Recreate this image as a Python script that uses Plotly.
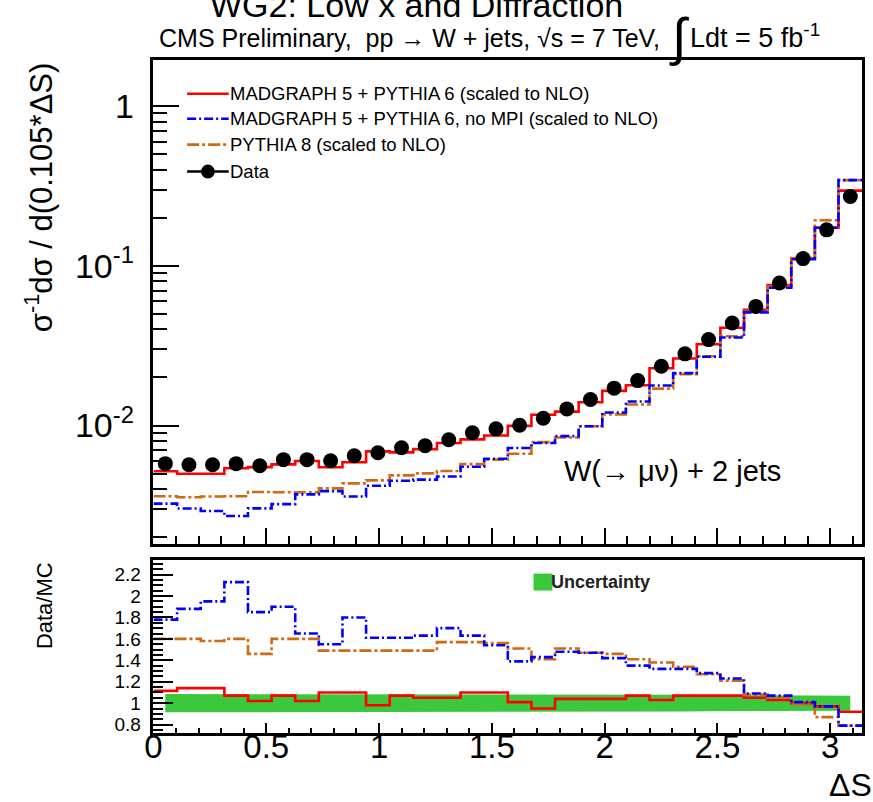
import numpy as np
import plotly.graph_objects as go

# ---- binning: 30 bins in Delta S from 0 to pi (width 0.105) ----
n_bins = 30
edges = np.linspace(0.0, np.pi, n_bins + 1)
centers = 0.5 * (edges[:-1] + edges[1:])

# ---- normalised cross section, data ----
data_xsec = [0.00577, 0.00568, 0.00568, 0.00577, 0.00560, 0.00611, 0.00611, 0.00602,
             0.00647, 0.00675, 0.00726, 0.00747, 0.00815, 0.00900, 0.00953, 0.01004,
             0.0111, 0.0127, 0.01454, 0.01713, 0.0191, 0.0235, 0.0281, 0.0345,
             0.0438, 0.0557, 0.0780, 0.111, 0.168, 0.272]

# ---- Data/MC ratios per bin ----
ratio_mg5 = [1.115, 1.14, 1.14, 1.07, 1.02, 1.07, 1.02, 1.10, 1.10, 0.98,
             1.07, 1.05, 1.05, 1.10, 1.10, 1.01, 0.95, 1.04, 1.04, 1.04,
             1.07, 1.03, 1.07, 1.07, 1.07, 1.05, 1.03, 1.00, 0.97, 0.92]
ratio_nompi = [1.78, 1.88, 1.95, 2.13, 1.85, 1.90, 1.65, 1.55, 1.80, 1.61,
               1.61, 1.63, 1.70, 1.63, 1.54, 1.39, 1.43, 1.48, 1.47, 1.42,
               1.35, 1.32, 1.32, 1.28, 1.23, 1.09, 1.07, 1.01, 0.97, 0.79]
ratio_py8 = [1.60, 1.60, 1.58, 1.60, 1.46, 1.60, 1.60, 1.49, 1.49, 1.49,
             1.49, 1.49, 1.57, 1.57, 1.56, 1.51, 1.41, 1.51, 1.47, 1.46,
             1.41, 1.38, 1.34, 1.27, 1.21, 1.08, 1.05, 0.99, 0.87, 0.79]

# ---- uncertainty band (relative, around 1) ----
unc_rel = [0.085, 0.085, 0.085, 0.085, 0.085, 0.085, 0.085, 0.085, 0.085, 0.085,
           0.085, 0.085, 0.085, 0.085, 0.082, 0.080, 0.080, 0.080, 0.080, 0.080,
           0.078, 0.078, 0.078, 0.076, 0.075, 0.075, 0.074, 0.072, 0.070, 0.070]

# ---- tick labels ----
top_tickvals = [0.01, 0.1, 1]
top_ticktext = ["10<sup>-2</sup>", "10<sup>-1</sup>", "1"]
ratio_tickvals = [0.8, 1.0, 1.2, 1.4, 1.6, 1.8, 2.0, 2.2]
ratio_ticktext = ["0.8", "1", "1.2", "1.4", "1.6", "1.8", "2", "2.2"]
x_tickvals = [0, 0.5, 1, 1.5, 2, 2.5, 3]
x_ticktext = ["0", "0.5", "1", "1.5", "2", "2.5", "3"]

data_arr = np.array(data_xsec)
mc_mg5 = data_arr / np.array(ratio_mg5)
mc_nompi = data_arr / np.array(ratio_nompi)
mc_py8 = data_arr / np.array(ratio_py8)

RED = "#ff0000"
BLUE = "#0000ff"
ORANGE = "#d06a12"
GREEN = "#3cc83c"
FONT = "Liberation Sans, Arial, sans-serif"
DASH_BLUE = "9px,3px,2px,3px"
DASH_ORANGE = "12px,3px,3px,3px"

W, H = 873, 802


def px(x):
    return x / W


def py(y):
    return 1 - y / H


def step(vals):
    v = list(vals)
    return list(edges), v + [v[-1]]


fig = go.Figure()

# ---- upper panel: histograms ----
for vals, col, dash in [(mc_mg5, RED, "solid"),
                        (mc_py8, ORANGE, DASH_ORANGE),
                        (mc_nompi, BLUE, DASH_BLUE)]:
    xs, ys = step(vals)
    fig.add_trace(go.Scatter(x=xs, y=ys, mode="lines", line_shape="hv",
                             line=dict(color=col, width=2.6, dash=dash),
                             xaxis="x", yaxis="y", showlegend=False, hoverinfo="skip"))

fig.add_trace(go.Scatter(x=centers, y=data_xsec, mode="markers",
                         marker=dict(color="black", size=15, symbol="circle"),
                         xaxis="x", yaxis="y", showlegend=False))

# ---- lower panel: uncertainty band and ratios ----
band_up = [1 + u for u in unc_rel]
band_dn = [1 - u for u in unc_rel]
fig.add_trace(go.Scatter(x=list(centers) + list(centers[::-1]),
                         y=band_up + band_dn[::-1], fill="toself",
                         fillcolor=GREEN, line=dict(width=0), mode="lines",
                         xaxis="x2", yaxis="y2", showlegend=False, hoverinfo="skip"))
for vals, col, dash in [(ratio_mg5, RED, "solid"),
                        (ratio_py8, ORANGE, DASH_ORANGE),
                        (ratio_nompi, BLUE, DASH_BLUE)]:
    xs, ys = step(vals)
    fig.add_trace(go.Scatter(x=xs, y=ys, mode="lines", line_shape="hv",
                             line=dict(color=col, width=2.6, dash=dash),
                             xaxis="x2", yaxis="y2", showlegend=False, hoverinfo="skip"))

x_dom = [px(146), px(862)]
frame = dict(showline=True, linecolor="black", linewidth=2.5, mirror=True,
             showgrid=False, zeroline=False)

fig.update_layout(
    width=W, height=H, margin=dict(l=0, r=0, t=0, b=0),
    paper_bgcolor="white", plot_bgcolor="white",
    font=dict(family=FONT, color="black"),
    xaxis=dict(domain=x_dom, range=[0, np.pi], anchor="y",
               tickvals=x_tickvals, showticklabels=False,
               ticks="inside", ticklen=16, tickwidth=2, tickcolor="black",
               minor=dict(dtick=0.1, tick0=0, ticks="inside", ticklen=8,
                          tickwidth=2, tickcolor="black"),
               **frame),
    yaxis=dict(domain=[py(545), py(60)], type="log",
               range=[np.log10(0.00182), np.log10(1.95)], anchor="x",
               tickvals=top_tickvals, ticktext=top_ticktext,
               ticks="inside", ticklen=26, tickwidth=2, tickcolor="black",
               tickfont=dict(size=34, family=FONT), ticklabelstandoff=10,
               minor=dict(tickvals=[k * 10.0 ** e for e in (-3, -2, -1, 0) for k in range(2, 10)],
                          ticks="inside", ticklen=14, tickwidth=2, tickcolor="black"),
               **frame),
    xaxis2=dict(domain=x_dom, range=[0, np.pi], anchor="y2",
                tickvals=x_tickvals, ticktext=x_ticktext,
                ticks="inside", ticklen=10, tickwidth=2, tickcolor="black",
                tickfont=dict(size=33, family=FONT), ticklabelstandoff=-18,
                minor=dict(dtick=0.1, tick0=0, ticks="inside", ticklen=5,
                           tickwidth=2, tickcolor="black"),
                **frame),
    yaxis2=dict(domain=[py(735), py(561)], range=[0.72, 2.34], anchor="x2",
                tickvals=ratio_tickvals, ticktext=ratio_ticktext,
                ticks="inside", ticklen=20, tickwidth=2, tickcolor="black",
                tickfont=dict(size=19, family=FONT), ticklabelstandoff=6,
                minor=dict(dtick=0.05, tick0=0, ticks="inside", ticklen=10,
                           tickwidth=2, tickcolor="black"),
                **frame),
)

P = dict(xref="paper", yref="paper", showarrow=False)
ann = []
# page title and header line (the integral sign is set separately, larger)
ann.append(dict(text="WG2: Low x and Diffraction", x=px(412), y=py(5),
                font=dict(size=34, family=FONT), xanchor="center", yanchor="middle", **P))
ann.append(dict(text="CMS Preliminary,  pp → W + jets, √s = 7 TeV,",
                x=px(660), y=py(38), font=dict(size=25, family=FONT),
                xanchor="right", yanchor="middle", **P))
ann.append(dict(text="∫", x=px(677), y=py(38), font=dict(size=52, family=FONT),
                xanchor="center", yanchor="middle", **P))
ann.append(dict(text="Ldt = 5 fb<sup>-1</sup>", x=px(686), y=py(36),
                font=dict(size=27, family=FONT), xanchor="left", yanchor="middle", **P))
# axis titles
ann.append(dict(text="σ<sup>-1</sup>dσ / d(0.105*ΔS)", x=px(30), y=py(198),
                textangle=-90, font=dict(size=31, family=FONT),
                xanchor="center", yanchor="middle", **P))
ann.append(dict(text="Data/MC", x=px(36), y=py(607), textangle=-90,
                font=dict(size=22, family=FONT), xanchor="center", yanchor="middle", **P))
ann.append(dict(text="ΔS", x=px(850), y=py(787), font=dict(size=32, family=FONT),
                xanchor="center", yanchor="middle", **P))
ann.append(dict(text="W(→ μν) + 2 jets", x=px(670), y=py(472),
                font=dict(size=29, family=FONT), xanchor="center", yanchor="middle", **P))

# legend of the upper panel
legend_rows = [("MADGRAPH 5 + PYTHIA 6 (scaled to NLO)", RED, "solid", 94),
               ("MADGRAPH 5 + PYTHIA 6, no MPI (scaled to NLO)", BLUE, DASH_BLUE, 119),
               ("PYTHIA 8 (scaled to NLO)", ORANGE, DASH_ORANGE, 145),
               ("Data", "black", "solid", 172)]
shapes = []
for label, col, dash, yy in legend_rows:
    shapes.append(dict(type="line", xref="paper", yref="paper",
                       x0=px(180), x1=px(222), y0=py(yy), y1=py(yy),
                       line=dict(color=col, width=2.6, dash=dash)))
    ann.append(dict(text=label, x=px(221), y=py(yy), font=dict(size=18.5, family=FONT),
                    xanchor="left", yanchor="middle", **P))
shapes.append(dict(type="circle", xref="paper", yref="paper",
                   x0=px(194), x1=px(208), y0=py(179), y1=py(165),
                   fillcolor="black", line=dict(color="black", width=0)))

# legend of the lower panel
shapes.append(dict(type="rect", xref="paper", yref="paper",
                   x0=px(530), x1=px(549), y0=py(592), y1=py(575),
                   fillcolor=GREEN, line=dict(width=0)))
ann.append(dict(text="<b>Uncertainty</b>", x=px(546), y=py(583),
                font=dict(size=18, family=FONT, color="#222222"),
                xanchor="left", yanchor="middle", **P))

fig.update_layout(annotations=ann, shapes=shapes)
fig.write_html("out.html")
